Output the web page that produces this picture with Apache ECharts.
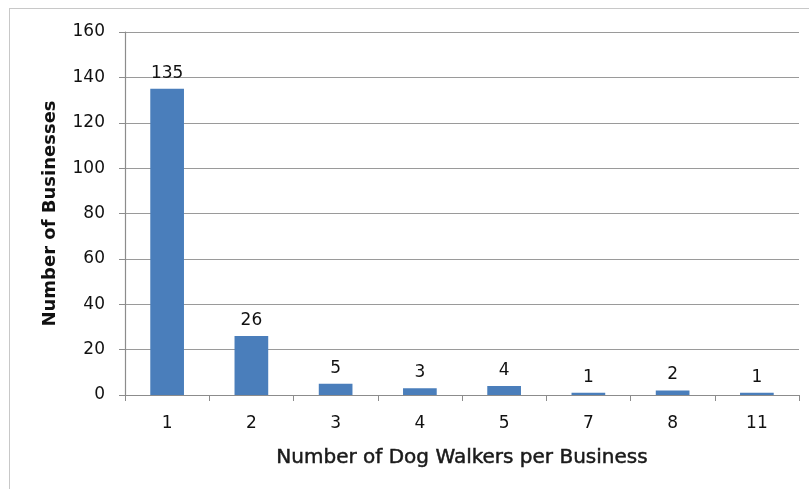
<!DOCTYPE html>
<html><head><meta charset="utf-8">
<script src="https://cdn.jsdelivr.net/npm/echarts@6/dist/echarts.min.js"></script>
<style>html,body{margin:0;padding:0;background:#fff}#c{width:809px;height:489px;position:relative}
#b{position:absolute;left:9px;top:8px;width:820px;height:500px;border:1px solid #c8c8c8;box-sizing:border-box}</style>
</head><body><div id="b"></div><div id="c"></div>
<script>
const categories = ['1','2','3','4','5','7','8','11'];
const values = [135,26,5,3,4,1,2,1];
const yTicks = {min:0,max:160,interval:20};
const font = '"DejaVu Sans", sans-serif';
const chart = echarts.init(document.getElementById('c'), null, {renderer:'canvas'});
chart.setOption({
  animation:false,
  grid:{left:125,right:10,top:32,bottom:94},
  xAxis:{type:'category',data:categories,
    name:'Number of Dog Walkers per Business',nameLocation:'middle',nameGap:53,
    nameTextStyle:{fontFamily:font,fontSize:20,fontWeight:'normal',color:'#1a1a1a',textBorderColor:'#1a1a1a',textBorderWidth:0.5},
    axisLine:{lineStyle:{color:'#8c8c8c',width:1.2}},
    axisTick:{show:true,length:6,lineStyle:{color:'#8c8c8c'}},
    axisLabel:{fontFamily:font,fontSize:17,color:'#111',margin:20}},
  yAxis:{type:'value',min:yTicks.min,max:yTicks.max,interval:yTicks.interval,
    name:'Number of Businesses',nameLocation:'middle',nameGap:66,
    nameTextStyle:{fontFamily:font,fontSize:18,fontWeight:'bold',color:'#111'},
    axisLine:{show:true,lineStyle:{color:'#8c8c8c',width:1.2}},
    axisTick:{show:true,length:6,lineStyle:{color:'#8c8c8c'}},
    axisLabel:{fontFamily:font,fontSize:17,color:'#111',margin:20},
    splitLine:{lineStyle:{color:'#9a9a9a',width:1.2}}},
  series:[{type:'bar',data:values,barWidth:'40%',
    itemStyle:{color:'#4a7ebb'},
    label:{show:true,position:'top',distance:7,fontFamily:font,fontSize:17,color:'#111'}}]
});
</script></body></html>
